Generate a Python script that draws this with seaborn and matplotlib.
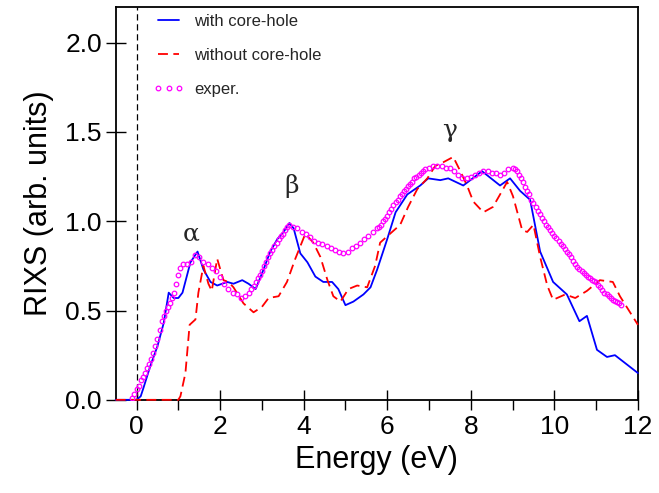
import matplotlib
matplotlib.use("Agg")
import matplotlib.pyplot as plt
import numpy as np
import pandas as pd
import seaborn as sns
from matplotlib.ticker import MultipleLocator

# with core-hole (calc.)
core_x = [-0.5, 0.0, 0.1, 0.17, 0.33, 0.5, 0.65, 0.77, 0.89, 1.0, 1.1, 1.29, 1.46,
          1.6, 1.77, 1.93, 2.17, 2.32, 2.53, 2.68, 2.85, 3.04, 3.2, 3.37, 3.52,
          3.66, 3.76, 3.92, 4.09, 4.28, 4.47, 4.68, 4.83, 5.0, 5.19, 5.43, 5.6,
          5.76, 6.0, 6.2, 6.48, 6.79, 6.98, 7.27, 7.46, 7.82, 8.27, 8.7, 8.94,
          9.18, 9.42, 9.66, 9.97, 10.3, 10.6, 10.78, 11.02, 11.26, 11.45, 12.0]
core_y = [0.0, 0.0, 0.02, 0.07, 0.19, 0.30, 0.43, 0.60, 0.57, 0.57, 0.60, 0.77, 0.83,
          0.73, 0.66, 0.64, 0.66, 0.65, 0.67, 0.65, 0.62, 0.73, 0.83, 0.90, 0.94,
          0.99, 0.96, 0.82, 0.77, 0.69, 0.66, 0.66, 0.62, 0.53, 0.55, 0.59, 0.63,
          0.73, 0.90, 1.05, 1.15, 1.20, 1.24, 1.23, 1.24, 1.20, 1.28, 1.20, 1.24,
          1.17, 1.12, 0.83, 0.66, 0.59, 0.44, 0.47, 0.28, 0.24, 0.25, 0.15]

# without core-hole (calc.)
nocore_x = [-0.5, 1.0, 1.05, 1.17, 1.27, 1.41, 1.48, 1.6, 1.72, 1.8, 1.93, 2.08,
            2.2, 2.32, 2.56, 2.8, 3.0, 3.16, 3.4, 3.6, 3.8, 4.04, 4.23, 4.4, 4.57,
            4.71, 4.88, 5.07, 5.28, 5.52, 5.71, 5.83, 6.02, 6.31, 6.5, 6.72, 6.96,
            7.15, 7.34, 7.58, 7.75, 7.91, 8.06, 8.3, 8.53, 8.75, 8.87, 9.01, 9.23,
            9.35, 9.5, 9.66, 9.83, 9.97, 10.26, 10.5, 10.78, 11.09, 11.4, 11.57, 12.0]
nocore_y = [0.0, 0.0, 0.02, 0.15, 0.42, 0.45, 0.60, 0.75, 0.65, 0.61, 0.79, 0.67,
            0.66, 0.63, 0.54, 0.49, 0.52, 0.57, 0.58, 0.66, 0.79, 0.93, 0.88, 0.80, 0.67,
            0.58, 0.55, 0.62, 0.64, 0.63, 0.75, 0.88, 0.92, 0.98, 1.08, 1.18, 1.24,
            1.31, 1.33, 1.36, 1.28, 1.20, 1.11, 1.05, 1.08, 1.17, 1.22, 1.14, 0.95,
            0.94, 0.98, 0.80, 0.64, 0.56, 0.59, 0.57, 0.61, 0.67, 0.66, 0.58, 0.42]

# experiment
exp_x = [-0.10, -0.05, 0.00, 0.05, 0.10, 0.15, 0.20, 0.25, 0.30, 0.35, 0.40, 0.45,
         0.50, 0.55, 0.60, 0.65, 0.70, 0.75, 0.80, 0.85, 0.90, 0.95, 1.00, 1.05,
         1.10, 1.2, 1.3, 1.4, 1.5, 1.6, 1.7, 1.8, 1.9, 2.0, 2.1, 2.2, 2.3, 2.4,
         2.5, 2.6, 2.7, 2.75, 2.8, 2.85, 2.9, 2.95, 3.0, 3.05, 3.1, 3.15, 3.2,
         3.25, 3.3, 3.35, 3.4, 3.45, 3.5, 3.55, 3.6, 3.65, 3.75, 3.85, 3.95, 4.05,
         4.15, 4.25, 4.35, 4.45, 4.55, 4.65, 4.75, 4.85, 4.95, 5.05, 5.15, 5.25,
         5.35, 5.45, 5.55, 5.65, 5.75, 5.8, 5.85, 5.9, 5.95, 6.0, 6.05, 6.1, 6.15,
         6.2, 6.25, 6.3, 6.35, 6.4, 6.45, 6.5, 6.55, 6.6, 6.65, 6.7, 6.75, 6.8,
         6.85, 6.9, 7.0, 7.1, 7.2, 7.3, 7.4, 7.5, 7.6, 7.7, 7.8, 7.9, 8.0, 8.1,
         8.2, 8.3, 8.4, 8.5, 8.6, 8.7, 8.8, 8.9, 9.0, 9.05, 9.1, 9.15, 9.2, 9.25,
         9.3, 9.35, 9.4, 9.45, 9.5, 9.55, 9.6, 9.65, 9.7, 9.75, 9.8, 9.85, 9.9,
         9.95, 10.0, 10.05, 10.1, 10.15, 10.2, 10.25, 10.3, 10.35, 10.4, 10.45,
         10.5, 10.55, 10.6, 10.65, 10.7, 10.75, 10.8, 10.85, 10.9, 10.95, 11.0,
         11.05, 11.1, 11.15, 11.2, 11.25, 11.3, 11.35, 11.4, 11.45, 11.5, 11.55, 11.6]
exp_y = [0.01, 0.03, 0.06, 0.08, 0.11, 0.13, 0.15, 0.18, 0.20, 0.23, 0.26, 0.30,
         0.34, 0.39, 0.44, 0.47, 0.50, 0.52, 0.54, 0.57, 0.60, 0.65, 0.70, 0.74,
         0.76, 0.76, 0.77, 0.81, 0.80, 0.77, 0.76, 0.74, 0.72, 0.69, 0.65, 0.62,
         0.60, 0.59, 0.57, 0.58, 0.60, 0.62, 0.64, 0.66, 0.68, 0.70, 0.72, 0.75,
         0.77, 0.80, 0.82, 0.84, 0.86, 0.88, 0.90, 0.92, 0.93, 0.95, 0.97, 0.98,
         0.97, 0.96, 0.94, 0.93, 0.91, 0.89, 0.88, 0.87, 0.86, 0.85, 0.84, 0.83,
         0.82, 0.83, 0.85, 0.86, 0.88, 0.90, 0.92, 0.94, 0.96, 0.97, 0.98, 1.00,
         1.01, 1.03, 1.05, 1.07, 1.09, 1.11, 1.12, 1.14, 1.15, 1.17, 1.18, 1.20,
         1.21, 1.22, 1.24, 1.25, 1.26, 1.27, 1.28, 1.29, 1.30, 1.31, 1.31, 1.31,
         1.30, 1.30, 1.28, 1.26, 1.24, 1.24, 1.25, 1.26, 1.27, 1.28, 1.28, 1.27,
         1.27, 1.26, 1.27, 1.29, 1.30, 1.29, 1.28, 1.26, 1.24, 1.22, 1.19, 1.17,
         1.15, 1.12, 1.10, 1.08, 1.06, 1.04, 1.02, 1.00, 0.98, 0.965, 0.95, 0.935,
         0.92, 0.905, 0.89, 0.875, 0.86, 0.845, 0.83, 0.815, 0.80, 0.78, 0.76,
         0.745, 0.73, 0.72, 0.71, 0.70, 0.69, 0.68, 0.67, 0.665, 0.66, 0.645,
         0.63, 0.615, 0.60, 0.59, 0.58, 0.57, 0.56, 0.555, 0.55, 0.54, 0.53]

peak_labels = ["α", "β", "γ"]
peak_x = [1.3, 3.7, 7.48]
peak_y = [0.93, 1.20, 1.51]

sns.set_style("ticks")
plt.rcParams["font.family"] = ["Liberation Sans", "DejaVu Sans"]

fig = plt.figure(figsize=(6.59, 4.93), dpi=100)
ax = fig.add_axes([0.1755, 0.189, 0.7925, 0.797])

ax.axvline(0, color="black", linestyle=(0, (5, 3)), linewidth=0.9, zorder=1)

sns.lineplot(x=core_x, y=core_y, ax=ax, color="#0000ff", linewidth=1.3,
             label="with core-hole", sort=False, errorbar=None,
             zorder=3, clip_on=False)
sns.lineplot(x=nocore_x, y=nocore_y, ax=ax, color="#ff0000", linewidth=1.3,
             linestyle=(0, (5.5, 3)), label="without core-hole", sort=False,
             errorbar=None, zorder=3, clip_on=False)
sns.lineplot(x=exp_x, y=exp_y, ax=ax, color="#ff00ff", linestyle="none",
             marker="o", markersize=3.3, markerfacecolor="none",
             markeredgecolor="#ff00ff", markeredgewidth=0.9,
             label="exper.", sort=False, errorbar=None, zorder=4)

for lab, px, py in zip(peak_labels, peak_x, peak_y):
    ax.text(px, py, lab, fontsize=18, family="DejaVu Serif",
            ha="center", va="center")

ax.set_xlim(-0.5, 12)
ax.set_ylim(0, 2.2)
ax.xaxis.set_major_locator(MultipleLocator(2))
ax.xaxis.set_minor_locator(MultipleLocator(1))
ax.yaxis.set_major_locator(MultipleLocator(0.5))
ax.yaxis.set_major_formatter(plt.FormatStrFormatter("%.1f"))
ax.tick_params(which="major", direction="inout", length=14, width=1.0,
               labelsize=19, pad=3, color="black", labelcolor="black")
ax.tick_params(which="minor", direction="out", length=7, width=1.0,
               color="black")
ax.tick_params(axis="x", which="major", pad=4)

for sp in ax.spines.values():
    sp.set_visible(True)
    sp.set_color("black")
    sp.set_linewidth(1.3)

ax.set_xlabel("Energy (eV)", fontsize=22, labelpad=4, color="black")
ax.set_ylabel("RIXS (arb. units)", fontsize=22, labelpad=8, color="black")

ax.legend(loc="upper left", bbox_to_anchor=(0.071, 0.982), frameon=False,
          fontsize=12, handlelength=1.9, handletextpad=0.6, labelspacing=1.13,
          borderpad=0, borderaxespad=0, numpoints=3)

fig.savefig("out.png", dpi=100)
